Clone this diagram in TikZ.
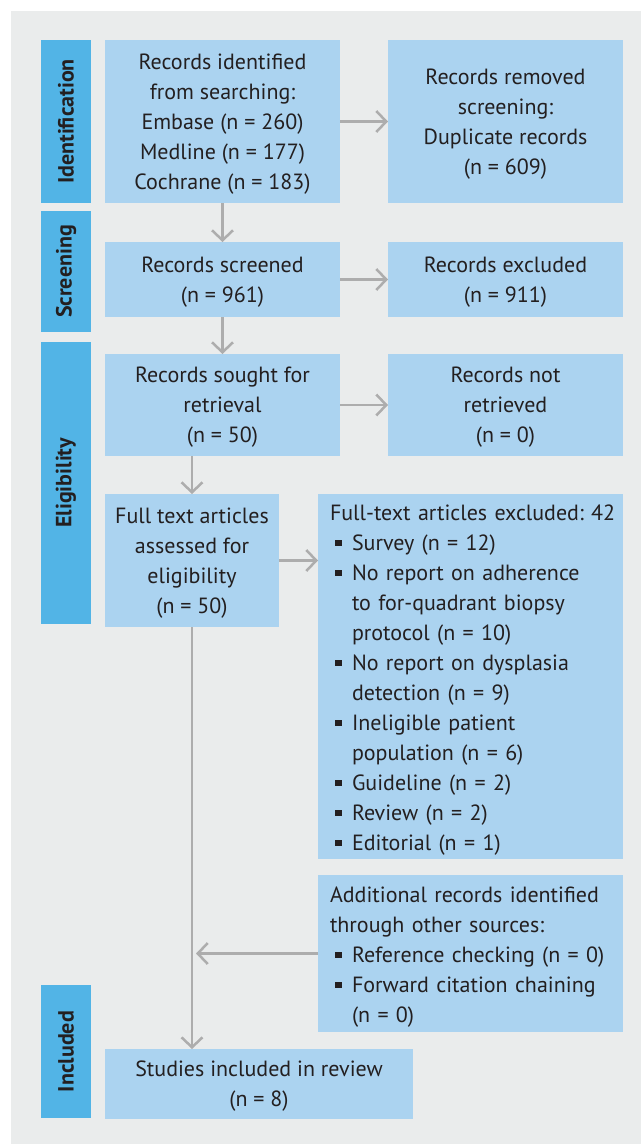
\documentclass[tikz,border=0pt]{standalone}
\usepackage{fontspec}
\setmainfont{PT Sans}
\usetikzlibrary{arrows.meta}
\definecolor{bg}{RGB}{234,236,236}
\definecolor{phs}{RGB}{82,180,230}
\definecolor{bx}{RGB}{171,211,240}
\definecolor{ar}{RGB}{173,173,173}
\definecolor{tx}{RGB}{35,31,32}
\newcommand{\blt}{\makebox[22pt][l]{\hspace{5pt}\rule[4.5pt]{6.5pt}{6.5pt}}}
\newcommand{\hng}{\hspace*{22pt}}
\frenchspacing

\begin{document}
\begin{tikzpicture}[x=1pt,y=-1pt,
    phase/.style={fill=phs, rotate=90, minimum height=50pt, inner sep=0pt, outer sep=0pt, text=tx, font=\fontsize{22}{30}\selectfont\bfseries},
    box/.style={fill=bx, minimum width=235pt, inner sep=0pt, outer sep=0pt, align=center, text depth=0pt, text=tx, font=\fontsize{22}{30}\selectfont},
    lst/.style={box, anchor=north west, minimum width=305pt, inner xsep=12pt, text width=281pt, align=left},
    arr/.style={draw=ar, line width=2.5pt, -{Straight Barb[length=10pt,width=21pt,line width=2.5pt]}}]
        \useasboundingbox (0,0) rectangle (641,1144);
        \fill[bg] (11,11) rectangle (641,1144);
        % phases
        \node[phase, minimum width=163pt] (idph) at (66,121.5) {Identification};
        \node[phase, minimum width=121pt] (scph) at (66,271.5) {Screening};
        \node[phase, minimum width=282pt] (elph) at (66,483) {Eligibility};
        \node[phase, minimum width=133pt] (inph) at (66,1051.5) {Included};
        % boxes
        \node[box, minimum height=163pt] (ident) at (222.5,121.5) {Records identified\\from searching:\\Embase (n = 260)\\Medline (n = 177)\\Cochrane (n = 183)};
        \node[box, minimum height=163pt] (dupl) at (505.5,121.5) {Records removed\\screening:\\Duplicate records\\(n = 609)};
        \node[box, minimum height=75pt] (scrn) at (222.5,279.5) {Records screened\\(n = 961)};
        \node[box, minimum height=75pt] (excl) at (505.5,279.5) {Records excluded\\(n = 911)};
        \node[box, minimum height=102pt] (sght) at (222.5,405) {Records sought for\\retrieval\\(n = 50)};
        \node[box, minimum height=102pt] (nret) at (505.5,405) {Records not\\retrieved\\(n = 0)};
        \node[box, minimum width=174pt, minimum height=133pt] (full) at (192,560.5) {Full text articles\\assessed for\\eligibility\\(n = 50)};
        \node[lst, minimum height=365pt, text height=188.5pt, text depth=171.5pt] (fexc) at (318,494) {\begin{tabular}{@{}l@{}}
            Full-text articles excluded: 42\\
            \blt Survey (n = 12)\\
            \blt No report on adherence\\
            \hng to for-quadrant biopsy\\
            \hng protocol (n = 10)\\
            \blt No report on dysplasia\\
            \hng detection (n = 9)\\
            \blt Ineligible patient\\
            \hng population (n = 6)\\
            \blt Guideline (n = 2)\\
            \blt Review (n = 2)\\
            \blt Editorial (n = 1)
        \end{tabular}};
        \node[lst, minimum height=157pt, text height=83.5pt, text depth=66.5pt] (addl) at (318,875) {\begin{tabular}{@{}l@{}}
            Additional records identified\\
            through other sources:\\
            \blt Reference checking (n = 0)\\
            \blt Forward citation chaining\\
            \hng (n = 0)
        \end{tabular}};
        \node[box, minimum width=308pt, minimum height=70pt] (incl) at (259,1084) {Studies included in review\\(n = 8)};
        % arrows
        \draw[arr] (ident) -- (dupl);
        \draw[arr] (ident) -- (scrn);
        \draw[arr] (scrn) -- (excl);
        \draw[arr] (scrn) -- (sght);
        \draw[arr] (sght) -- (nret);
        \draw[arr] (sght.south -| full.north) -- (full);
        \draw[arr] (full.east) -- (full.east -| fexc.west);
        \draw[arr] (full) -- (full |- incl.north);
        \draw[arr, shorten >=4pt] (addl.west) -- (addl.west -| full.south);
    \end{tikzpicture}
\end{document}
